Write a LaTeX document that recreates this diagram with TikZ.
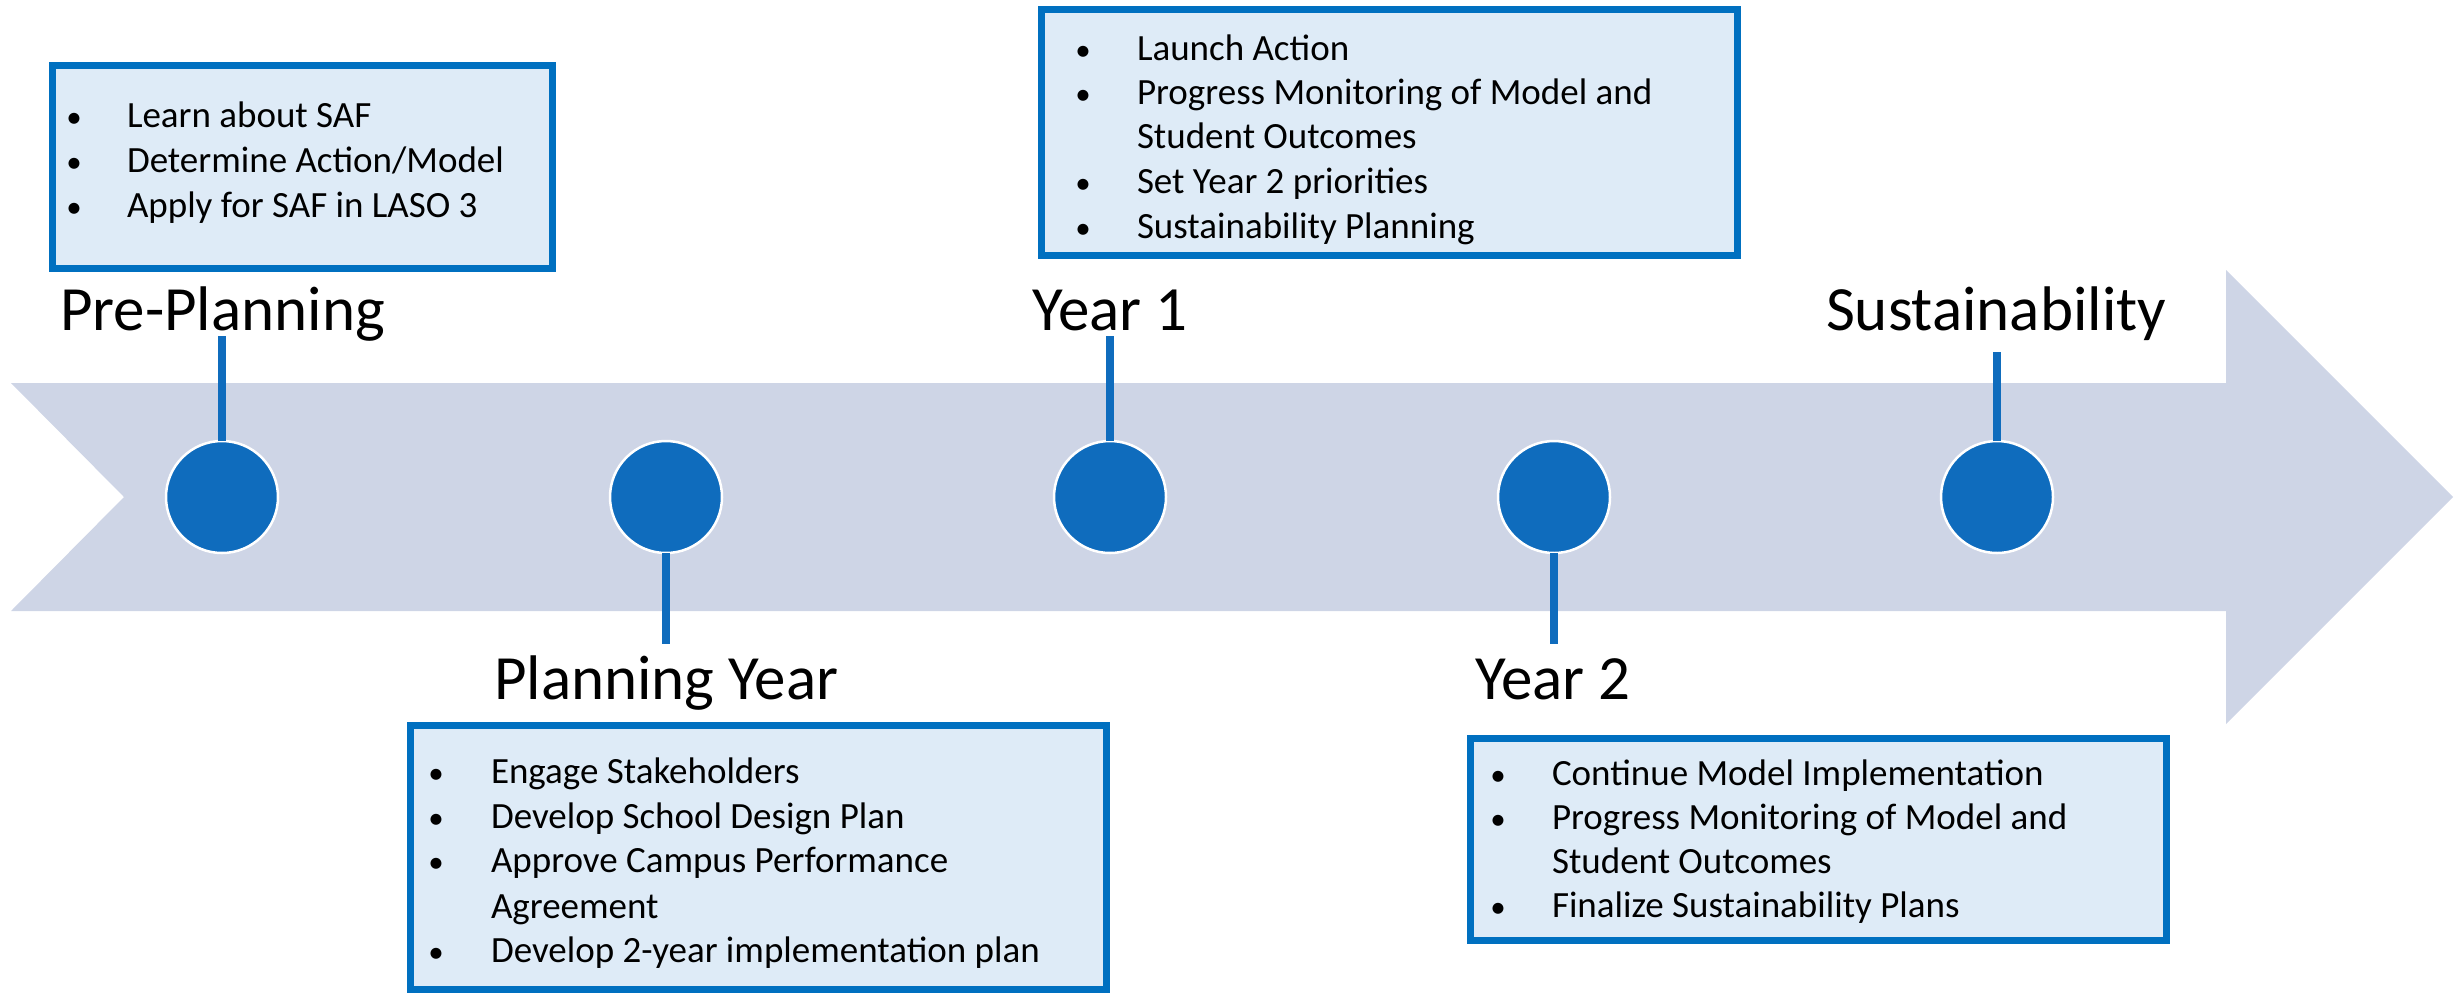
\documentclass[tikz,border=0pt]{standalone}
\usepackage{fontspec}
\setmainfont{Carlito}
\definecolor{bandc}{HTML}{CED5E6}
\definecolor{dotc}{HTML}{0F6CBD}
\definecolor{boxfill}{HTML}{DEEBF7}
\definecolor{boxline}{HTML}{0070C0}
\begin{document}
\begin{tikzpicture}[x=1pt,y=-1pt,
  every node/.style={inner sep=0pt,outer sep=0pt},
  band/.style={fill=bandc},
  dot/.style={circle,fill=dotc,draw=white,line width=2.5pt,minimum size=112pt},
  stem/.style={draw=dotc,line width=7.5pt},
  title/.style={anchor=base west,font=\fontsize{63}{75}\selectfont,text=black},
  item/.style={anchor=base west,font=\fontsize{37}{45}\selectfont,text=black},
  bul/.style={anchor=base,font=\fontsize{31}{45}\selectfont,text=black},
  infobox/.style={rectangle,fill=boxfill,draw=boxline,line width=7pt}
]
\useasboundingbox (0,0) rectangle (2456,997);
% arrow band
\fill[band] (11,383) -- (2226,383) -- (2226,270) -- (2453,497) -- (2226,724)
  -- (2226,611) -- (11,611) -- (124,497) -- cycle;

% circles
\node[dot] (c1) at (222,497) {};
\node[dot] (c2) at (666,497) {};
\node[dot] (c3) at (1110,497) {};
\node[dot] (c4) at (1554,497) {};
\node[dot] (c5) at (1997,497) {};

% stem ends
\coordinate (s1) at (222,336);
\coordinate (s2) at (666,644);
\coordinate (s3) at (1110,336);
\coordinate (s4) at (1554,644);
\coordinate (s5) at (1997,352);
\draw[stem] (c1.north) -- (s1);
\draw[stem] (c2.south) -- (s2);
\draw[stem] (c3.north) -- (s3);
\draw[stem] (c4.south) -- (s4);
\draw[stem] (c5.north) -- (s5);

% titles
\node[title] (t1) at (60,330) {Pre-Planning};
\node[title] (t2) at (494,699) {Planning Year};
\node[title] (t3) at (1032,330) {Year 1};
\node[title] (t4) at (1475,699) {Year 2};
\node[title] (t5) at (1826,330) {Sustainability};

% boxes (outer extents minus line width)
\node[infobox,minimum width=500pt,minimum height=203pt] (b1) at (302.5,167) {};
\node[infobox,minimum width=696pt,minimum height=246pt] (b3) at (1389.5,132.5) {};
\node[infobox,minimum width=696pt,minimum height=264pt] (b2) at (758.5,857.5) {};
\node[infobox,minimum width=696pt,minimum height=202pt] (b4) at (1818.5,839.5) {};

% box 1 text
\node[bul] (b1d1) at (74,127) {•};
\node[item] (b1l1) at (127,127) {Learn about SAF};
\node[bul] (b1d2) at (74,172) {•};
\node[item] (b1l2) at (127,172) {Determine Action/Model};
\node[bul] (b1d3) at (74,217) {•};
\node[item] (b1l3) at (127,217) {Apply for SAF in LASO 3};

% box Year 1 text
\node[bul] (b3d1) at (1083,60) {•};
\node[item] (b3l1) at (1137,60) {Launch Action};
\node[bul] (b3d2) at (1083,104) {•};
\node[item] (b3l2) at (1137,104) {Progress Monitoring of Model and};
\node[item] (b3l3) at (1137,148) {Student Outcomes};
\node[bul] (b3d4) at (1083,193) {•};
\node[item] (b3l4) at (1137,193) {Set Year 2 priorities};
\node[bul] (b3d5) at (1083,238) {•};
\node[item] (b3l5) at (1137,238) {Sustainability Planning};

% box Planning Year text
\node[bul] (b2d1) at (436,783) {•};
\node[item] (b2l1) at (491,783) {Engage Stakeholders};
\node[bul] (b2d2) at (436,828) {•};
\node[item] (b2l2) at (491,828) {Develop School Design Plan};
\node[bul] (b2d3) at (436,872) {•};
\node[item] (b2l3) at (491,872) {Approve Campus Performance};
\node[item] (b2l4) at (491,918) {Agreement};
\node[bul] (b2d5) at (436,962) {•};
\node[item] (b2l5) at (491,962) {Develop 2-year implementation plan};

% box Year 2 text
\node[bul] (b4d1) at (1498,785) {•};
\node[item] (b4l1) at (1552,785) {Continue Model Implementation};
\node[bul] (b4d2) at (1498,829) {•};
\node[item] (b4l2) at (1552,829) {Progress Monitoring of Model and};
\node[item] (b4l3) at (1552,873) {Student Outcomes};
\node[bul] (b4d4) at (1498,917) {•};
\node[item] (b4l4) at (1552,917) {Finalize Sustainability Plans};
\end{tikzpicture}
\end{document}
